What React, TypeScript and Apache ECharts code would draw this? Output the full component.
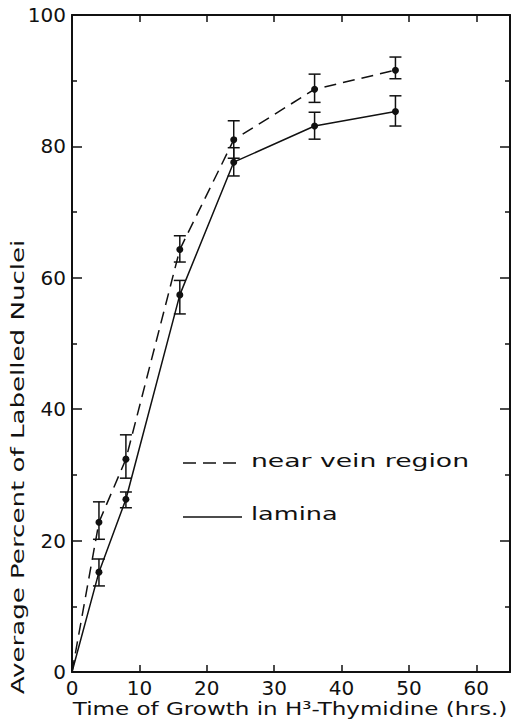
import React, { useEffect, useRef } from "react";
import * as echarts from "echarts";

const time = [0, 4, 8, 16, 24, 36, 48];
const nearVein = [0, 22.8, 32.4, 64.3, 81.0, 88.7, 91.6];
const nearVeinLow = [null, 20.2, 29.5, 62.4, 78.2, 86.7, 90.3];
const nearVeinHigh = [null, 25.9, 36.1, 66.4, 83.9, 91.0, 93.6];
const lamina = [0, 15.2, 26.3, 57.4, 77.6, 83.1, 85.3];
const laminaLow = [null, 13.1, 25.0, 54.5, 75.5, 81.1, 83.1];
const laminaHigh = [null, 17.2, 27.4, 59.6, 79.8, 85.2, 87.7];

const xTitle = "Time of Growth in H³-Thymidine (hrs.)";
const yTitle = "Average Percent of Labelled Nuclei";
const legendNames = ["near vein region", "lamina"];

const INK = "#111";
const FONT = "DejaVu Sans";

function errData(low: (number | null)[], high: (number | null)[]) {
  const out: number[][] = [];
  time.forEach((t, i) => {
    if (low[i] != null && high[i] != null) out.push([t, low[i] as number, high[i] as number]);
  });
  return out;
}

function errorRender(params: any, api: any) {
  const x = api.value(0);
  const lo = api.coord([x, api.value(1)]);
  const hi = api.coord([x, api.value(2)]);
  const w = 6;
  const st = { stroke: INK, lineWidth: 1.5 };
  return {
    type: "group",
    children: [
      { type: "line", shape: { x1: lo[0], y1: lo[1], x2: hi[0], y2: hi[1] }, style: st },
      { type: "line", shape: { x1: lo[0] - w, y1: lo[1], x2: lo[0] + w, y2: lo[1] }, style: st },
      { type: "line", shape: { x1: hi[0] - w, y1: hi[1], x2: hi[0] + w, y2: hi[1] }, style: st },
    ],
  };
}

export default function App() {
  const ref = useRef<HTMLDivElement>(null);
  useEffect(() => {
    if (!ref.current) return;
    const chart = echarts.init(ref.current, undefined, { renderer: "svg" });
    const axisLine = { show: true, onZero: false, lineStyle: { color: INK, width: 2 } };
    const label = { color: INK, fontSize: 20, fontFamily: FONT };
    const xFmt = (v: number) => (v % 10 === 0 ? String(v) : "");
    chart.setOption({
      animation: false,
      backgroundColor: "#fff",
      grid: { left: 72, right: 5, top: 15, bottom: 52, containLabel: false },
      xAxis: [
        {
          type: "value", position: "bottom", min: 0, max: 65, interval: 10,
          axisLine, splitLine: { show: false },
          axisTick: { show: true, inside: true, length: 7, lineStyle: { color: INK, width: 1.5 } },
          axisLabel: { ...label, margin: 6, formatter: xFmt },
        },
        {
          type: "value", position: "top", min: 0, max: 65, interval: 10,
          axisLine, splitLine: { show: false },
          axisTick: { show: true, inside: true, length: 7, lineStyle: { color: INK, width: 1.5 } },
          axisLabel: { show: false },
        },
      ],
      yAxis: [
        {
          type: "value", position: "left", min: 0, max: 100, interval: 20,
          axisLine, splitLine: { show: false },
          axisTick: { show: true, inside: true, length: 10, lineStyle: { color: INK, width: 1.5 } },
          minorTick: { show: true, splitNumber: 2, length: 5, lineStyle: { color: INK, width: 1.5 } },
          minorSplitLine: { show: false },
          axisLabel: { ...label, margin: 6 },
        },
        {
          type: "value", position: "right", min: 0, max: 100, interval: 20,
          axisLine, splitLine: { show: false },
          axisTick: { show: true, inside: true, length: 10, lineStyle: { color: INK, width: 1.5 } },
          minorTick: { show: true, splitNumber: 2, length: 5, lineStyle: { color: INK, width: 1.5 } },
          minorSplitLine: { show: false },
          axisLabel: { show: false },
        },
      ],
      series: [
        {
          name: legendNames[0], type: "line", xAxisIndex: 0, yAxisIndex: 0,
          data: time.map((t, i) => [t, nearVein[i]]),
          symbol: "circle",
          symbolSize: (_v: any, p: any) => (p.dataIndex === 0 ? 0 : 7),
          itemStyle: { color: INK },
          lineStyle: { color: INK, width: 1.5, type: [12, 7] },
        },
        {
          name: legendNames[1], type: "line", xAxisIndex: 0, yAxisIndex: 0,
          data: time.map((t, i) => [t, lamina[i]]),
          symbol: "circle",
          symbolSize: (_v: any, p: any) => (p.dataIndex === 0 ? 0 : 7),
          itemStyle: { color: INK },
          lineStyle: { color: INK, width: 1.5 },
        },
        {
          type: "custom", xAxisIndex: 0, yAxisIndex: 0,
          data: errData(nearVeinLow, nearVeinHigh), renderItem: errorRender, z: 3,
        },
        {
          type: "custom", xAxisIndex: 0, yAxisIndex: 0,
          data: errData(laminaLow, laminaHigh), renderItem: errorRender, z: 3,
        },
      ],
      graphic: [
        {
          type: "text", x: 290, y: 709, scaleX: 1.28,
          style: { text: xTitle, fill: INK, font: `18px "${FONT}"`, align: "center", verticalAlign: "middle" },
        },
        {
          type: "text", x: 18, y: 467, rotation: Math.PI / 2, scaleX: 1.45,
          style: { text: yTitle, fill: INK, font: `18px "${FONT}"`, align: "center", verticalAlign: "middle" },
        },
        {
          type: "line", shape: { x1: 183, y1: 463, x2: 242, y2: 463 },
          style: { stroke: INK, lineWidth: 1.5, lineDash: [13, 7] },
        },
        {
          type: "text", x: 251, y: 461, scaleX: 1.48,
          style: { text: legendNames[0], fill: INK, font: `18px "${FONT}"`, align: "left", verticalAlign: "middle" },
        },
        {
          type: "line", shape: { x1: 183, y1: 517, x2: 242, y2: 517 },
          style: { stroke: INK, lineWidth: 1.5 },
        },
        {
          type: "text", x: 251, y: 513, scaleX: 1.42,
          style: { text: legendNames[1], fill: INK, font: `18px "${FONT}"`, align: "left", verticalAlign: "middle" },
        },
      ],
    });
    return () => chart.dispose();
  }, []);
  return <div ref={ref} style={{ width: 515, height: 724, position: "absolute", left: 0, top: 0 }} />;
}
